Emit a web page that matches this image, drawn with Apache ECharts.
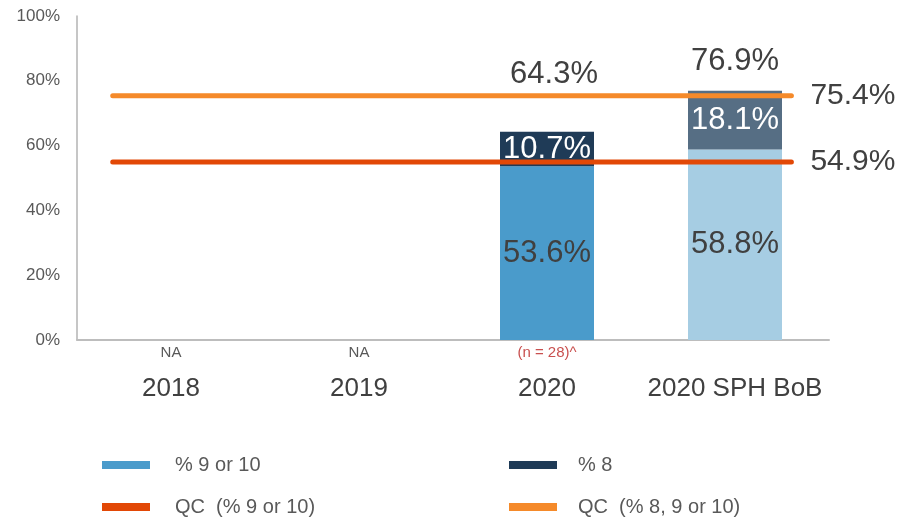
<!DOCTYPE html>
<html>
<head>
<meta charset="utf-8">
<script src="https://cdn.jsdelivr.net/npm/echarts@6/dist/echarts.min.js"></script>
<style>
  html, body { margin: 0; padding: 0; background: #fff; }
  #main { width: 907px; height: 521px; }
</style>
</head>
<body>
<div id="main"></div>
<script>
// data
var years = ['2018', '2019', '2020', '2020 SPH BoB'];
var notes = ['NA', 'NA', '(n = 28)^', ''];
var pct910 = ['-', '-', 53.6, 58.8];
var pct8 = ['-', '-', 10.7, 18.1];
var totals = ['-', '-', 64.3, 76.9];
var qc910 = 54.9;
var qc8910 = 75.4;
// where the QC lines start / end, in category units
var lineSpan = [-0.31, 3.30];

var font = '"Liberation Sans", Arial, sans-serif';
var myChart = echarts.init(document.getElementById('main'));

// one legend per entry, laid out as 2 x 2
function legendItem(name, left, top, pad) {
	return {
		left : left, top : top,
		icon : 'rect', itemWidth : 48, itemHeight : 8,
		data : [ name ],
		textStyle : { color : '#595959', fontSize : 20, padding : [ 0, 0, 0, pad ] }
	};
}

var option = {
	animation : false,
	textStyle : { fontFamily : font },
	grid : { left : 77, right : 78, top : 16, bottom : 181 },
	legend : [
		legendItem('% 9 or 10', 97, 450, 20),
		legendItem('QC  (% 9 or 10)', 97, 492, 20),
		legendItem('% 8', 504, 450, 16),
		legendItem('QC  (% 8, 9 or 10)', 504, 492, 16)
	],
	xAxis : [ {
		type : 'category',
		data : years,
		axisLine : { lineStyle : { color : '#bdbdbd', width : 2 } },
		axisTick : { show : false },
		axisLabel : {
			margin : 2,
			interval : 0,
			formatter : function (v, i) {
				var st = notes[i].charAt(0) === '(' ? 'nr' : 'na';
				return '{' + st + '|' + (notes[i] || ' ') + '}\n{y|' + v + '}';
			},
			rich : {
				na : { fontSize : 15, color : '#595959', lineHeight : 22 },
				nr : { fontSize : 15, color : '#c9504f', lineHeight : 22 },
				y : { fontSize : 26, color : '#404040', lineHeight : 50 }
			}
		}
	}, {
		type : 'value', show : false, min : -0.5, max : 3.5
	} ],
	yAxis : [ {
		type : 'value',
		min : 0, max : 100, interval : 20,
		splitLine : { show : false },
		axisLine : { show : true, onZero : false, lineStyle : { color : '#b3b3b3', width : 1.5 } },
		axisTick : { show : false },
		axisLabel : { formatter : '{value}%', color : '#595959', fontSize : 17, margin : 17 }
	} ],
	series : [ {
		name : '% 9 or 10',
		type : 'bar',
		stack : 'a',
		barWidth : 94,
		z : 2,
		itemStyle : { color : '#4a9bcb' },
		label : { show : true, position : 'inside', formatter : '{c}%', color : '#404040', fontSize : 31 },
		data : pct910.map(function (v, i) {
			return i === 3 ? { value : v, itemStyle : { color : '#a6cde3' } } : v;
		})
	}, {
		name : '% 8',
		type : 'bar',
		stack : 'a',
		barWidth : 94,
		z : 2,
		itemStyle : { color : '#1f3b57' },
		label : { show : true, position : 'inside', formatter : '{c}%', color : '#ffffff', fontSize : 31 },
		data : pct8.map(function (v, i) {
			return i === 3 ? { value : v, itemStyle : { color : '#566e84' } } : v;
		})
	}, {
		name : 'total',
		type : 'scatter',
		symbolSize : 1,
		itemStyle : { color : 'transparent', opacity : 1 },
		label : { show : true, position : 'inside', formatter : '{c}%', color : '#404040', fontSize : 31 },
		data : totals.map(function (v, i) {
			var off = i === 2 ? [ 7, -57 ] : [ 0, -29 ];
			return { value : v, label : { offset : off } };
		})
	}, {
		name : 'QC  (% 9 or 10)',
		type : 'line',
		xAxisIndex : 1,
		z : 3,
		symbol : 'none',
		color : '#e24806',
		lineStyle : { width : 5, cap : 'round', color : '#e24806' },
		endLabel : { show : true, formatter : qc910 + '%', color : '#404040', fontSize : 30, distance : 19 },
		data : [ [ lineSpan[0], qc910 ], [ lineSpan[1], qc910 ] ]
	}, {
		name : 'QC  (% 8, 9 or 10)',
		type : 'line',
		xAxisIndex : 1,
		z : 3,
		symbol : 'none',
		color : '#f58a2a',
		lineStyle : { width : 5, cap : 'round', color : '#f58a2a' },
		endLabel : { show : true, formatter : qc8910 + '%', color : '#404040', fontSize : 30, distance : 19 },
		data : [ [ lineSpan[0], qc8910 ], [ lineSpan[1], qc8910 ] ]
	} ]
};
myChart.setOption(option);
</script>
</body>
</html>
